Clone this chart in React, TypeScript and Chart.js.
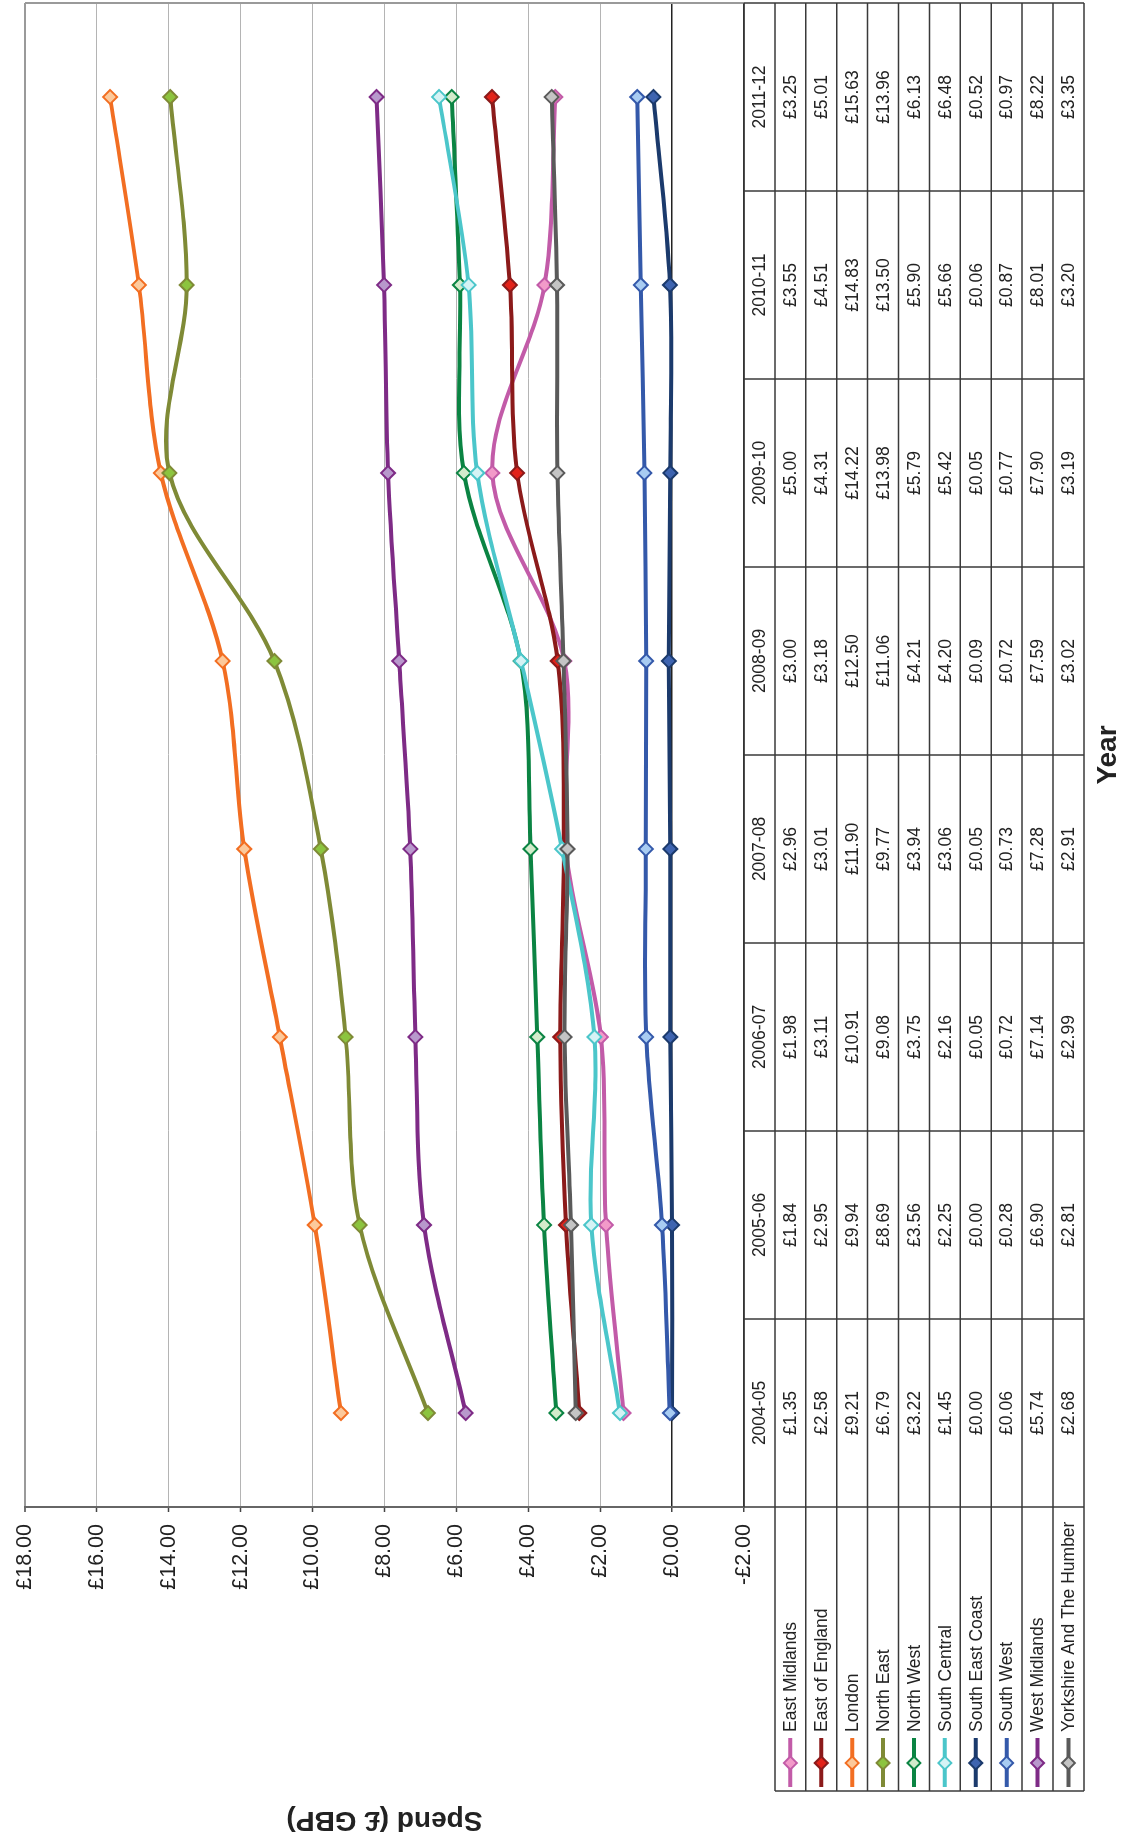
import React, { useEffect, useRef } from "react";
import { Chart, registerables } from "chart.js";

Chart.register(...registerables);

const categories = ["2004-05", "2005-06", "2006-07", "2007-08", "2008-09", "2009-10", "2010-11", "2011-12"];

const eastMidlands = [1.35, 1.84, 1.98, 2.96, 3.0, 5.0, 3.55, 3.25];
const eastOfEngland = [2.58, 2.95, 3.11, 3.01, 3.18, 4.31, 4.51, 5.01];
const london = [9.21, 9.94, 10.91, 11.9, 12.5, 14.22, 14.83, 15.63];
const northEast = [6.79, 8.69, 9.08, 9.77, 11.06, 13.98, 13.5, 13.96];
const northWest = [3.22, 3.56, 3.75, 3.94, 4.21, 5.79, 5.9, 6.13];
const southCentral = [1.45, 2.25, 2.16, 3.06, 4.2, 5.42, 5.66, 6.48];
const southEastCoast = [0.0, 0.0, 0.05, 0.05, 0.09, 0.05, 0.06, 0.52];
const southWest = [0.06, 0.28, 0.72, 0.73, 0.72, 0.77, 0.87, 0.97];
const westMidlands = [5.74, 6.9, 7.14, 7.28, 7.59, 7.9, 8.01, 8.22];
const yorkshire = [2.68, 2.81, 2.99, 2.91, 3.02, 3.19, 3.2, 3.35];

const seriesNames = [
  "East Midlands",
  "East of England",
  "London",
  "North East",
  "North West",
  "South Central",
  "South East Coast",
  "South West",
  "West Midlands",
  "Yorkshire And The Humber",
];
const seriesValues = [
  eastMidlands,
  eastOfEngland,
  london,
  northEast,
  northWest,
  southCentral,
  southEastCoast,
  southWest,
  westMidlands,
  yorkshire,
];
const lineColors = [
  "#C25BA8",
  "#8B1A1A",
  "#F26E22",
  "#7F8A36",
  "#0B8443",
  "#4BC6CA",
  "#1B3A6C",
  "#3459AA",
  "#7E2B86",
  "#5A5A5A",
];
const markerFills = [
  "#F29AC9",
  "#E2231A",
  "#FCC99B",
  "#8CC43F",
  "#D3EBCB",
  "#D5F3F5",
  "#3E64B0",
  "#A8CCF2",
  "#B898CC",
  "#C4C4C4",
];

const yMin = -2;
const yMax = 18;
const yStep = 2;

const FONT = "'Liberation Sans', Arial, Helvetica, sans-serif";
const W = 1834;
const H = 1123;

const fmt = (v: number) => (v < 0 ? "-" : "") + "£" + Math.abs(v).toFixed(2);

function drawDiamond(ctx: CanvasRenderingContext2D, x: number, y: number, r: number, fill: string, stroke: string) {
  ctx.beginPath();
  ctx.moveTo(x, y - r);
  ctx.lineTo(x + r, y);
  ctx.lineTo(x, y + r);
  ctx.lineTo(x - r, y);
  ctx.closePath();
  ctx.fillStyle = fill;
  ctx.fill();
  ctx.lineWidth = 2;
  ctx.strokeStyle = stroke;
  ctx.stroke();
}

const tablePlugin = {
  id: "dataTable",
  beforeDatasetsDraw(chart: any) {
    const ctx = chart.ctx as CanvasRenderingContext2D;
    const ca = chart.chartArea;
    ctx.save();
    ctx.strokeStyle = "#9a9a9a";
    ctx.lineWidth = 2;
    ctx.beginPath();
    ctx.moveTo(ca.right, ca.top);
    ctx.lineTo(ca.right, ca.bottom);
    ctx.stroke();
    ctx.restore();
  },
  afterDraw(chart: any) {
    const ctx = chart.ctx as CanvasRenderingContext2D;
    const ca = chart.chartArea;
    const xs = chart.scales.x;
    const n = categories.length;
    const rowH = 30.9;
    const top = ca.bottom;
    const nRows = seriesNames.length;
    const bottom = top + rowH * (nRows + 1);
    const legendLeft = 43;
    const step = xs.getPixelForValue(1) - xs.getPixelForValue(0);
    const bounds: number[] = [];
    for (let k = 0; k <= n; k++) bounds.push(xs.getPixelForValue(0) - step / 2 + k * step);

    ctx.save();
    ctx.strokeStyle = "#3a3a3a";
    ctx.lineWidth = 1.5;
    for (let r = 0; r <= nRows + 1; r++) {
      const y = top + r * rowH;
      ctx.beginPath();
      ctx.moveTo(r === 0 ? ca.left : legendLeft, y);
      ctx.lineTo(ca.right, y);
      ctx.stroke();
    }
    for (let k = 0; k <= n; k++) {
      ctx.beginPath();
      ctx.moveTo(bounds[k], top);
      ctx.lineTo(bounds[k], bottom);
      ctx.stroke();
    }
    ctx.beginPath();
    ctx.moveTo(legendLeft, top + rowH);
    ctx.lineTo(legendLeft, bottom);
    ctx.stroke();

    ctx.fillStyle = "#222";
    ctx.font = `17.5px ${FONT}`;
    ctx.textAlign = "center";
    ctx.textBaseline = "middle";
    for (let i = 0; i < n; i++) {
      ctx.fillText(categories[i], xs.getPixelForValue(i), top + rowH / 2 + 1);
    }
    for (let s = 0; s < nRows; s++) {
      const cy = top + rowH * (s + 1) + rowH / 2 + 1;
      for (let i = 0; i < n; i++) {
        ctx.fillText(fmt(seriesValues[s][i]), xs.getPixelForValue(i), cy);
      }
    }
    ctx.textAlign = "left";
    for (let s = 0; s < nRows; s++) {
      const cy = top + rowH * (s + 1) + rowH / 2;
      ctx.strokeStyle = lineColors[s];
      ctx.lineWidth = 4;
      ctx.beginPath();
      ctx.moveTo(47, cy);
      ctx.lineTo(96, cy);
      ctx.stroke();
      drawDiamond(ctx, 71, cy, 6.5, markerFills[s], lineColors[s]);
      ctx.fillStyle = "#222";
      ctx.fillText(seriesNames[s], 102, cy + 1);
    }
    ctx.restore();
  },
};

export default function App() {
  const canvasRef = useRef<HTMLCanvasElement | null>(null);

  useEffect(() => {
    document.body.style.margin = "0";
    const canvas = canvasRef.current;
    if (!canvas) return;
    Chart.defaults.font.family = FONT;
    const nSeries = seriesNames.length;
    const chart = new Chart(canvas, {
      type: "line",
      data: {
        labels: categories,
        datasets: seriesNames.map((name, i) => ({
          label: name,
          data: seriesValues[i],
          borderColor: lineColors[i],
          backgroundColor: markerFills[i],
          pointBackgroundColor: markerFills[i],
          pointBorderColor: lineColors[i],
          pointStyle: "rectRot",
          pointRadius: 7,
          pointBorderWidth: 2,
          borderWidth: 4,
          tension: 0.33,
          fill: false,
          order: nSeries - 1 - i,
        })),
      },
      options: {
        responsive: false,
        animation: false,
        devicePixelRatio: 1,
        layout: { autoPadding: false, padding: { left: 0, right: 3, top: 21, bottom: 1 } },
        plugins: {
          legend: { display: false },
          tooltip: { enabled: false },
        },
        scales: {
          x: {
            type: "category",
            offset: true,
            ticks: { display: false },
            grid: { display: false },
            border: { display: false },
            title: {
              display: true,
              text: "Year",
              color: "#222",
              padding: 0,
              font: { family: FONT, size: 28, weight: "bold", lineHeight: 1 },
            },
            afterFit: (s: any) => {
              s.height = 378;
            },
          },
          y: {
            min: yMin,
            max: yMax,
            ticks: {
              stepSize: yStep,
              callback: (v: any) => fmt(Number(v)),
              color: "#222",
              padding: 12,
              font: { family: FONT, size: 21.5 },
            },
            grid: {
              color: (c: any) => {
                const v = c.tick ? c.tick.value : 0;
                if (v === 0 || v === yMin) return "#222";
                if (v === yMax) return "#9a9a9a";
                return "#b4b4b4";
              },
              lineWidth: (c: any) => {
                const v = c.tick ? c.tick.value : 0;
                if (v === 0 || v === yMin) return 1.5;
                if (v === yMax) return 2;
                return 1;
              },
              tickLength: 5,
              tickColor: "#444",
              tickWidth: 1.5,
            },
            border: { color: "#666", width: 2 },
            title: {
              display: true,
              text: "Spend (£ GBP)",
              color: "#222",
              padding: 0,
              font: { family: FONT, size: 28, weight: "bold", lineHeight: 1 },
            },
            afterFit: (s: any) => {
              s.width = 327;
            },
          },
        },
      },
      plugins: [tablePlugin],
    } as any);
    return () => {
      chart.destroy();
    };
  }, []);

  return (
    <div
      style={{
        position: "absolute",
        left: 0,
        top: 0,
        width: H,
        height: W,
        overflow: "hidden",
        background: "#fff",
      }}
    >
      <div
        style={{
          position: "absolute",
          left: 0,
          top: 0,
          width: W,
          height: H,
          transformOrigin: "0 0",
          transform: `translateY(${W}px) rotate(-90deg)`,
        }}
      >
        <canvas ref={canvasRef} width={W} height={H} style={{ display: "block", width: W, height: H }} />
      </div>
    </div>
  );
}
